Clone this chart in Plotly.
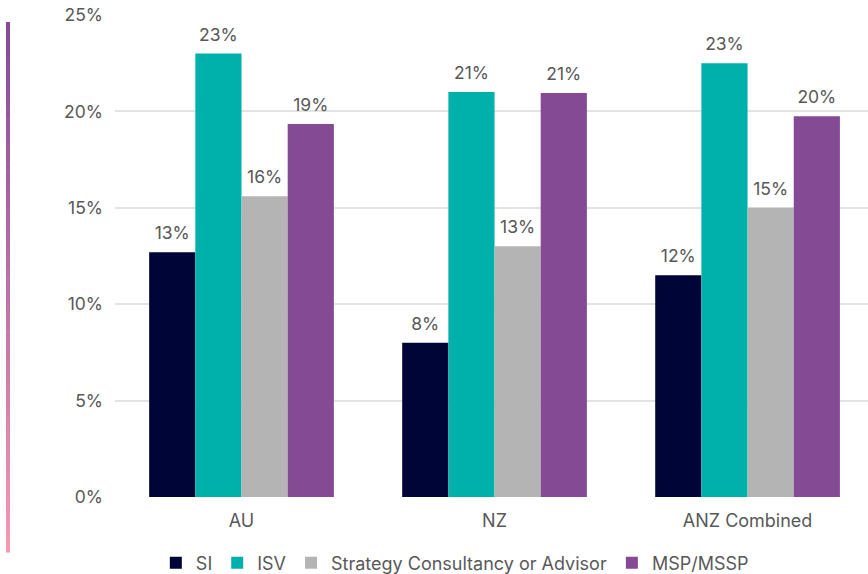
import plotly.graph_objects as go

categories = ["AU", "NZ", "ANZ Combined"]
series_names = ["SI", "ISV", "Strategy Consultancy or Advisor", "MSP/MSSP"]
si = [12.7, 8.0, 11.5]
isv = [23.0, 21.0, 22.5]
strategy = [15.6, 13.0, 15.0]
msp = [19.35, 20.95, 19.75]
si_labels = ["13%", "8%", "12%"]
isv_labels = ["23%", "21%", "23%"]
strategy_labels = ["16%", "13%", "15%"]
msp_labels = ["19%", "21%", "20%"]
colors = ["#000537", "#00B0AA", "#B4B4B4", "#854A94"]
y_ticks = [0, 5, 10, 15, 20, 25]
y_tick_labels = ["0%", "5%", "10%", "15%", "20%", "25%"]

FONT = "Inter"
GREY = "#595959"

fig = go.Figure()
all_vals = [si, isv, strategy, msp]
all_labs = [si_labels, isv_labels, strategy_labels, msp_labels]
for name, vals, col in zip(series_names, all_vals, colors):
    fig.add_trace(go.Bar(
        x=categories, y=vals, name=name, marker_color=col, marker_line_width=0,
    ))
# value labels: invisible grouped markers with text above
for name, vals, labs in zip(series_names, all_vals, all_labs):
    fig.add_trace(go.Scatter(
        x=categories, y=vals, mode="markers+text", text=labs,
        textposition="top center", showlegend=False, hoverinfo="skip",
        marker=dict(size=12, opacity=0), cliponaxis=False,
        textfont=dict(family=FONT, size=17.5, color=GREY),
    ))

W, H = 868, 574
ml, mr, mt, mb = 115, 0, 15, 77
fig.update_layout(
    width=W, height=H,
    margin=dict(l=ml, r=mr, t=mt, b=mb),
    paper_bgcolor="white", plot_bgcolor="white",
    barmode="group", bargap=0.27, bargroupgap=0,
    scattermode="group", scattergap=0.27,
    font=dict(family=FONT, color=GREY, size=18),
    showlegend=True,
    legend=dict(orientation="h", xref="container", x=0.524, xanchor="center",
                yref="container", y=0.019, yanchor="middle",
                font=dict(family=FONT, size=18, color=GREY),
                itemwidth=30, traceorder="normal"),
    xaxis=dict(range=[-0.5, 2.476], showgrid=False, showline=False, zeroline=False,
               ticks="", ticklabelstandoff=11,
               tickfont=dict(family=FONT, size=18, color=GREY)),
    yaxis=dict(range=[0, 25], tickvals=y_ticks, ticktext=y_tick_labels,
               showgrid=True, gridcolor="#E3E3E3", gridwidth=1.5,
               zeroline=False, showline=False, ticks="", ticklabelstandoff=11,
               tickfont=dict(family=FONT, size=17.5, color=GREY)),
)

# decorative vertical gradient line at the left
pw = W - ml - mr
ph = H - mt - mb
x0 = (6 - ml) / pw
x1 = (10 - ml) / pw
ytop, ybot = 22, 552
n = 60
c_top = (0x85, 0x4A, 0x99)
c_bot = (0xF4, 0x98, 0xB2)
shapes = []
for i in range(n):
    t = i / (n - 1)
    col = tuple(round(c_top[k] + (c_bot[k] - c_top[k]) * t) for k in range(3))
    py0 = ytop + (ybot - ytop) * i / n
    py1 = ytop + (ybot - ytop) * (i + 1) / n + 0.5
    shapes.append(dict(type="rect", xref="paper", yref="paper",
                       x0=x0, x1=x1,
                       y0=(H - mb - py1) / ph, y1=(H - mb - py0) / ph,
                       fillcolor="rgb(%d,%d,%d)" % col, line_width=0, layer="above"))
fig.update_layout(shapes=shapes)

fig.write_html("out.html", config={"displayModeBar": False},
               post_script="document.body.style.margin='0';document.body.style.overflow='hidden';")
